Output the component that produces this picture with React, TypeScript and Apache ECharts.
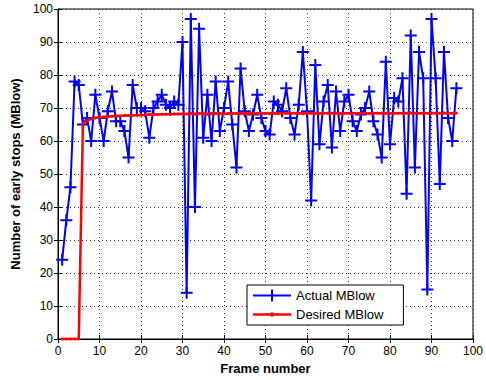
import React, { useEffect, useRef } from "react";
import * as echarts from "echarts";

const xTicks = [0, 10, 20, 30, 40, 50, 60, 70, 80, 90, 100];
const actualMBlow = [
  24, 36, 46, 78, 77, 65, 67, 60, 74, 67,
  60, 69, 75, 66, 66, 63, 55, 77, 70, 70,
  69, 61, 70, 72, 74, 71, 70, 72, 71, 90,
  14, 97, 40, 94, 61, 74, 60, 78, 63, 70,
  78, 65, 52, 82, 69, 63, 68, 74, 67, 63,
  62, 72, 71, 69, 76, 67, 62, 71, 87, 69,
  42, 83, 59, 72, 77, 58, 75, 63, 72, 74,
  66, 63, 68, 70, 75, 66, 62, 55, 84, 59,
  73, 72, 79, 44, 92, 52, 87, 79, 15, 97,
  79, 47, 87, 67, 60, 76,
];
const desiredMBlow = [
  0, 0, 0, 0, 0, 65.3, 66.2, 66.7, 67.0, 67.2,
  67.3, 67.4, 67.5, 67.6, 67.6, 67.7, 67.7, 67.8, 67.8, 67.9,
  67.9, 68.0, 68.0, 68.0, 68.1, 68.1, 68.1, 68.2, 68.2, 68.2,
  68.2, 68.3, 68.2, 68.3, 68.3, 68.2, 68.3, 68.3, 68.3, 68.2,
  68.3, 68.3, 68.4, 68.3, 68.3, 68.3, 68.4, 68.3, 68.3, 68.4,
  68.3, 68.4, 68.3, 68.4, 68.4, 68.3, 68.4, 68.4, 68.3, 68.4,
  68.4, 68.4, 68.3, 68.4, 68.4, 68.4, 68.4, 68.3, 68.4, 68.4,
  68.4, 68.4, 68.4, 68.4, 68.3, 68.4, 68.4, 68.4, 68.4, 68.4,
  68.4, 68.4, 68.4, 68.4, 68.5, 68.4, 68.4, 68.4, 68.4, 68.5,
  68.4, 68.4, 68.5, 68.4, 68.4, 68.5,
];
const seriesNames = ["Actual MBlow", "Desired MBlow"];
const xTitle = "Frame number";
const yTitle = "Number of early stops (MBlow)";

const FONT = "Liberation Sans, Arial, sans-serif";
const PLUS = "path://M0,6 L12,6 M6,0 L6,12";
const BLUE_ICON = "path://M0,5H38V7H0Z M18,0H20V12H18Z";
const RED_ICON = "path://M0,4.75H38V7.25H0Z M17.5,4H20.5V8H17.5Z";

export default function App() {
  const ref = useRef<HTMLDivElement>(null);
  useEffect(() => {
    if (!ref.current) return;
    const chart = echarts.init(ref.current, null, { renderer: "svg" });
    const toPairs = (arr: number[]) => arr.map((v, i) => [i + 1, v]);
    const mirrorAxis = {
      type: "value",
      min: 0,
      max: 100,
      interval: 10,
      axisLine: { show: true, lineStyle: { color: "#000", width: 1 } },
      axisTick: { show: true, inside: true, length: 4, lineStyle: { color: "#000" } },
      axisLabel: { show: false },
      splitLine: { show: false },
    };
    chart.setOption({
      animation: false,
      backgroundColor: "#fff",
      textStyle: { fontFamily: FONT },
      grid: {
        left: 58,
        right: 8,
        top: 9,
        bottom: 41,
        show: true,
        borderColor: "#000",
        borderWidth: 1,
        backgroundColor: "transparent",
      },
      legend: {
        orient: "vertical",
        left: 247,
        top: 285,
        data: [
          { name: seriesNames[0], icon: BLUE_ICON, itemStyle: { color: "#0000ff", borderWidth: 0 } },
          { name: seriesNames[1], icon: RED_ICON, itemStyle: { color: "#ff0000", borderWidth: 0 } },
        ],
        symbolKeepAspect: true,
        backgroundColor: "#fff",
        borderColor: "#000",
        borderWidth: 1,
        borderRadius: 0,
        padding: [4, 20, 4, 6],
        itemGap: 6,
        itemWidth: 38,
        itemHeight: 12,
        textStyle: { fontFamily: FONT, fontSize: 13, color: "#000" },
      },
      xAxis: [
        {
          type: "value",
          min: 0,
          max: 100,
          interval: 10,
          name: xTitle,
          nameLocation: "middle",
          nameGap: 21,
          nameTextStyle: { fontFamily: FONT, fontSize: 13, fontWeight: "bold", color: "#000" },
          axisLine: { show: true, lineStyle: { color: "#000", width: 1 } },
          axisTick: { show: true, inside: true, length: 4, lineStyle: { color: "#000" } },
          axisLabel: {
            color: "#000",
            fontFamily: FONT,
            fontSize: 12,
            margin: 6,
            formatter: (v: number) => (xTicks.includes(v) ? String(v) : ""),
          },
          splitLine: { show: true, lineStyle: { color: "#333", type: [1, 3], width: 1 } },
        },
        { ...mirrorAxis, position: "top" },
      ],
      yAxis: [
        {
          type: "value",
          min: 0,
          max: 100,
          interval: 10,
          name: yTitle,
          nameLocation: "middle",
          nameGap: 36,
          nameTextStyle: { fontFamily: FONT, fontSize: 13, fontWeight: "bold", color: "#000" },
          axisLine: { show: true, lineStyle: { color: "#000", width: 1 } },
          axisTick: { show: true, inside: true, length: 4, lineStyle: { color: "#000" } },
          axisLabel: { color: "#000", fontFamily: FONT, fontSize: 12, margin: 5 },
          splitLine: { show: true, lineStyle: { color: "#333", type: [1, 3], width: 1 } },
        },
        { ...mirrorAxis, position: "right" },
      ],
      series: [
        {
          name: seriesNames[0],
          type: "line",
          data: toPairs(actualMBlow),
          symbol: PLUS,
          symbolSize: 12,
          showAllSymbol: true,
          z: 3,
          lineStyle: { color: "#0000ff", width: 2 },
          itemStyle: { color: "#0000ff", borderColor: "#0000ff", borderWidth: 2 },
        },
        {
          name: seriesNames[1],
          type: "line",
          data: toPairs(desiredMBlow),
          symbol: "circle",
          symbolSize: 3,
          showAllSymbol: true,
          z: 4,
          lineStyle: { color: "#ff0000", width: 2.5 },
          itemStyle: { color: "#ff0000", borderColor: "#ff0000", borderWidth: 0 },
        },
      ],
    });
    return () => chart.dispose();
  }, []);
  return (
    <div
      ref={ref}
      style={{ position: "absolute", left: 0, top: 0, width: 486, height: 380 }}
    />
  );
}
